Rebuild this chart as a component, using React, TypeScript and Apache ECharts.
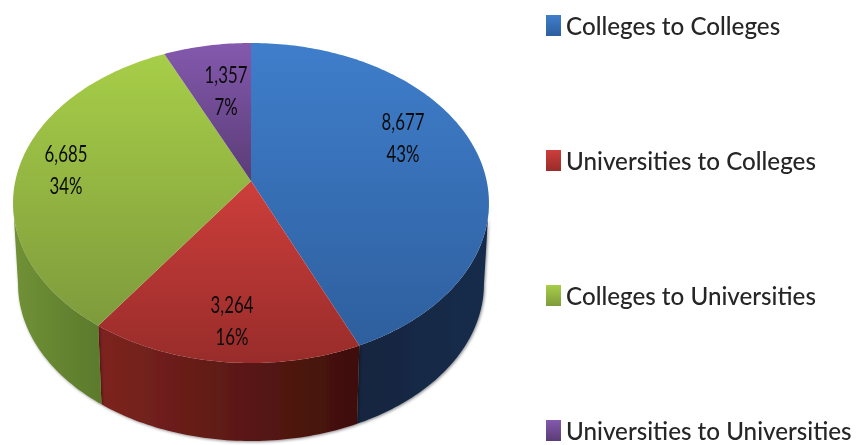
import React, { useEffect, useRef } from "react";
import * as echarts from "echarts";

const categories = [
  "Colleges to Colleges",
  "Universities to Colleges",
  "Colleges to Universities",
  "Universities to Universities",
];
const values = [8677, 3264, 6685, 1357];
const percents = [43, 16, 34, 7];

const faceColors = [
  ["#3f7ecb", "#2e5f9e"],
  ["#cd3e3b", "#982c2a"],
  ["#a7ce48", "#7e9b3c"],
  ["#8459ae", "#5a3c76"],
];
const wallColors = [
  ["#12263f", "#152c4b"],
  ["#7e2420", "#3e0f0b"],
  ["#719136", "#5b7a2c"],
  ["#3a2a50", "#3a2a50"],
];
const labelAnchors = [
  [403, 137],
  [232, 320],
  [66, 169],
  [226, 90],
];

const APEX_X = 251;
const APEX_Y = 181;
const K = 0.1375;
const CX = 235.7;
const CY = 157;
const RIM_SCALE_X = 0.979;
const RIM_SCALE_Y = 0.981;
const RIM_Y_TOP = 203;
const RIM_Y_BOTTOM = 284;
const WALL_START = Math.acos(-K);
const WALL_END = 2 * Math.PI - WALL_START;

const FONT = 'Lato, "Open Sans", sans-serif';

const total = values.reduce((a, b) => a + b, 0);

function topPoint(theta: number): [number, number] {
  const X = Math.sin(theta);
  const Y = Math.cos(theta);
  const d = 1 + K * Y;
  return [APEX_X + (CX * X) / d, APEX_Y - (CY * Y) / d];
}

function rimPoint(theta: number): [number, number] {
  const [x, y] = topPoint(theta);
  return [APEX_X + RIM_SCALE_X * (x - APEX_X), RIM_Y_BOTTOM + RIM_SCALE_Y * (y - RIM_Y_TOP)];
}

function arc(a: number, b: number, fn: (t: number) => [number, number]) {
  const out: [number, number][] = [];
  const n = Math.max(2, Math.ceil(((b - a) * 180) / Math.PI));
  for (let i = 0; i <= n; i++) out.push(fn(a + ((b - a) * i) / n));
  return out;
}

function sliceRange(i: number): [number, number] {
  const before = values.slice(0, i).reduce((a, b) => a + b, 0);
  return [(before / total) * 2 * Math.PI, ((before + values[i]) / total) * 2 * Math.PI];
}

function renderSlice(i: number) {
  return () => {
    const [a, b] = sliceRange(i);
    const children: any[] = [];
    const wa = Math.max(a, WALL_START);
    const wb = Math.min(b, WALL_END);
    const top = arc(a, b, topPoint);
    if (wb > wa) {
      const upper = arc(wa, wb, topPoint);
      const lower = arc(wa, wb, rimPoint).reverse();
      const pts = upper.concat(lower);
      const xs = pts.map((p) => p[0]);
      const minX = Math.min(...xs);
      const maxX = Math.max(...xs);
      const startsLeft = upper[0][0] < upper[upper.length - 1][0];
      children.push({
        type: "polygon",
        shape: { points: pts },
        style: {
          fill: new echarts.graphic.LinearGradient(
            startsLeft ? minX : maxX,
            0,
            startsLeft ? maxX : minX,
            0,
            [
              { offset: 0, color: wallColors[i][1] },
              { offset: 1, color: wallColors[i][0] },
            ],
            true
          ),
          shadowBlur: 3,
          shadowOffsetX: 1,
          shadowOffsetY: 1,
          shadowColor: "rgba(0,0,0,0.45)",
        },
      });
    }
    const face = [[APEX_X, APEX_Y] as [number, number]].concat(top);
    const ys = face.map((p) => p[1]);
    children.push({
      type: "polygon",
      shape: { points: face },
      style: {
        fill: new echarts.graphic.LinearGradient(
          0,
          Math.min(...ys),
          0,
          Math.max(...ys),
          [
            { offset: 0, color: faceColors[i][0] },
            { offset: 1, color: faceColors[i][1] },
          ],
          true
        ),
      },
    });
    const [lx, ly] = labelAnchors[i];
    const lines = [values[i].toLocaleString("en-US"), `${percents[i]}%`];
    lines.forEach((t, j) => {
      children.push({
        type: "text",
        x: lx,
        y: ly + (j === 0 ? -16 : 16),
        scaleX: 0.7,
        style: {
          text: t,
          x: 0,
          y: 0,
          align: "center",
          verticalAlign: "middle",
          fontFamily: FONT,
          fontSize: 24,
          fill: "#0b0b0b",
        },
      });
    });
    return { type: "group", children };
  };
}

export default function App() {
  const ref = useRef<HTMLDivElement>(null);
  useEffect(() => {
    const chart = echarts.init(ref.current!, undefined, { renderer: "svg" });
    chart.setOption({
      animation: false,
      backgroundColor: "#ffffff",
      legend: {
        orient: "vertical",
        left: 546,
        top: 8,
        height: 600,
        padding: 0,
        itemWidth: 15,
        itemHeight: 21,
        itemGap: 100,
        selectedMode: false,
        icon: "rect",
        textStyle: {
          fontFamily: FONT,
          fontSize: 24.2,
          fontWeight: 500,
          color: "#262626",
          lineHeight: 35,
        },
        data: categories.map((name, i) => ({
          name,
          itemStyle: {
            color: new echarts.graphic.LinearGradient(0, 0, 0, 1, [
              { offset: 0, color: faceColors[i][0] },
              { offset: 1, color: faceColors[i][1] },
            ]),
          },
        })),
      },
      series: categories.map((name, i) => ({
        type: "custom",
        name,
        coordinateSystem: "none",
        silent: true,
        itemStyle: { color: faceColors[i][0] },
        data: [[values[i]]],
        renderItem: renderSlice(i),
      })),
    });
    return () => chart.dispose();
  }, []);
  return (
    <div
      ref={ref}
      style={{ position: "fixed", left: 0, top: 0, width: 861, height: 445, filter: "blur(0.6px)" }}
    />
  );
}
